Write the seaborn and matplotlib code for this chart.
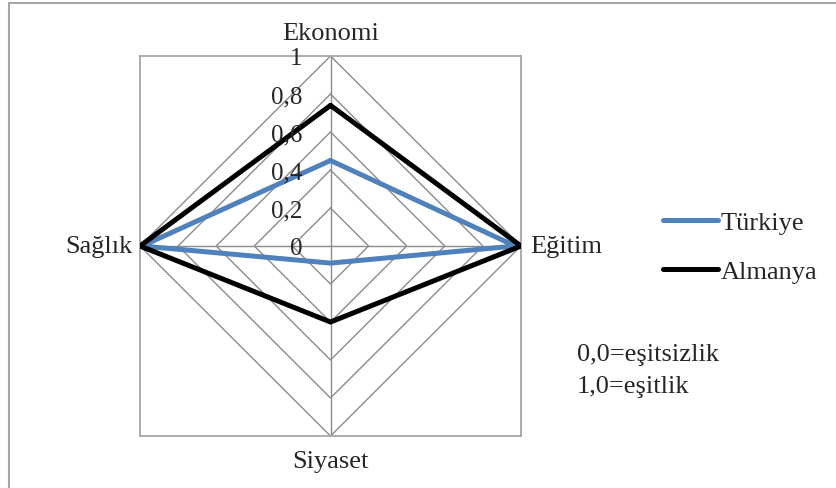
import numpy as np
import pandas as pd
import matplotlib.pyplot as plt
from matplotlib.lines import Line2D
import seaborn as sns

sns.set_theme(style="white")
plt.rcParams['font.family'] = ['Liberation Serif', 'DejaVu Serif']

# data
categories = ["Ekonomi", "Eğitim", "Siyaset", "Sağlık"]
turkiye = [0.45, 0.97, 0.09, 0.99]
almanya = [0.74, 1.00, 0.40, 1.00]
series_names = ["Türkiye", "Almanya"]
tick_values = [0, 0.2, 0.4, 0.6, 0.8, 1.0]
tick_labels = ["0", "0,2", "0,4", "0,6", "0,8", "1"]
note_lines = ["0,0=eşitsizlik", "1,0=eşitlik"]

colors = {"Türkiye": "#4f81bd", "Almanya": "#000000"}
grid_col = "#8c8c8c"

# angle of each category, clockwise from the top
angles = np.arange(len(categories)) * 2 * np.pi / len(categories)

rows = []
for name, vals in zip(series_names, [turkiye, almanya]):
    for i in list(range(len(categories))) + [0]:
        rows.append({"series": name, "order": len(rows),
                     "x": vals[i] * np.sin(angles[i]),
                     "y": vals[i] * np.cos(angles[i])})
df = pd.DataFrame(rows)

W, H = 837, 489
fig = plt.figure(figsize=(W / 100, H / 100), dpi=100)
ax = fig.add_axes([140 / W, 1 - 437 / H, 381 / W, 380 / H])
ax.set_xlim(-1, 1)
ax.set_ylim(-1, 1)

# diamond grid + spokes
for v in tick_values[1:]:
    gx = [v * np.sin(a) for a in angles] + [0]
    gy = [v * np.cos(a) for a in angles] + [v]
    ax.plot(gx, gy, color=grid_col, lw=1.0, zorder=1)
for a in angles:
    ax.plot([0, np.sin(a)], [0, np.cos(a)], color=grid_col, lw=1.0, zorder=1)

sns.lineplot(data=df, x="x", y="y", hue="series", units="series", estimator=None,
             sort=False, palette=colors, lw=3.6, ax=ax, legend=False, zorder=3)
for ln in ax.get_lines()[-2:]:
    ln.set_solid_joinstyle("miter")

# radial tick labels
for v, lab in zip(tick_values, tick_labels):
    ax.text(-0.147, v - 0.012, lab, ha="right", va="center", fontsize=18, zorder=4)

# category labels
lab_pos = [(0, 1.12, "center", "center"), (1.047, 0, "left", "center"),
           (0, -1.13, "center", "center"), (-1.037, 0, "right", "center")]
for cat, (x, y, ha, va) in zip(categories, lab_pos):
    ax.text(x, y, cat, ha=ha, va=va, fontsize=19, clip_on=False)

ax.set_xticks([])
ax.set_yticks([])
ax.set_xlabel("")
ax.set_ylabel("")
for s in ax.spines.values():
    s.set_color("#a6a6a6")
    s.set_linewidth(1.3)

handles = [Line2D([0], [0], color=colors[n], lw=3.6) for n in series_names]
ax.legend(handles, series_names, loc="center left", bbox_to_anchor=(663 / W, 1 - 248 / H),
          bbox_transform=fig.transFigure, frameon=False, fontsize=19,
          handlelength=2.1, handletextpad=0.08, labelspacing=0.95,
          borderpad=0, borderaxespad=0)

fig.text(577 / W, 1 - 355 / H, note_lines[0], ha="left", va="center", fontsize=19)
fig.text(577 / W, 1 - 387 / H, note_lines[1], ha="left", va="center", fontsize=19)

# outer chart border (top and left edges visible)
fig.add_artist(Line2D([9 / W, 1], [1 - 4 / H, 1 - 4 / H], transform=fig.transFigure,
                      color="#a6a6a6", lw=1.5))
fig.add_artist(Line2D([9 / W, 9 / W], [0, 1 - 4 / H], transform=fig.transFigure,
                      color="#a6a6a6", lw=1.5))

fig.savefig("out.png", dpi=100)
